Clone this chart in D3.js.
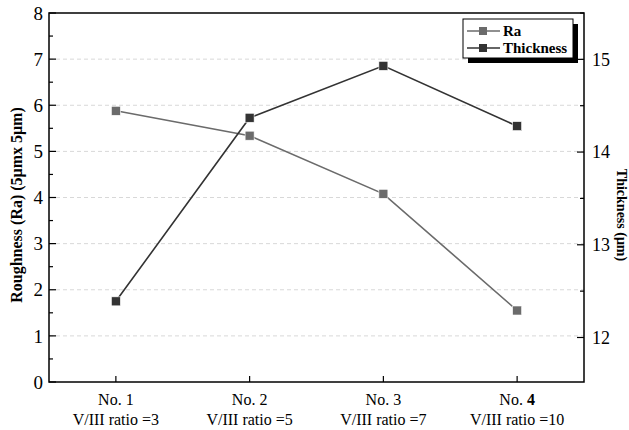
<!DOCTYPE html>
<html><head><meta charset="utf-8">
<script src="https://cdn.jsdelivr.net/npm/d3@7/dist/d3.min.js"></script>
<style>body{margin:0;background:#fff}svg{display:block}text{font-family:"Liberation Serif","Times New Roman",serif}</style>
</head><body><svg id="c" width="629" height="430"></svg>
<script>
const categories = ["No. 1","No. 2","No. 3","No. 4"];
const ratioLabels = ["V/III ratio =3","V/III ratio =5","V/III ratio =7","V/III ratio =10"];
const raValues = [5.88, 5.34, 4.08, 1.55];
const thicknessValues = [12.39, 14.37, 14.93, 14.28];
const leftTicks = [0,1,2,3,4,5,6,7,8];
const rightTicks = [12,13,14,15];

const svg = d3.select("#c");
const L=49, R=584, T=13, B=382;
const x = d3.scalePoint().domain(categories).range([L,R]).padding(0.5);
const yL = d3.scaleLinear().domain([0,8]).range([B,T]);
const yR = d3.scaleLinear().domain([11.52,15.5]).range([B,T]);

// grid
svg.append("g").selectAll("line").data(leftTicks.filter(d=>d>0&&d<8)).join("line")
  .attr("x1",L).attr("x2",R).attr("y1",d=>yL(d)).attr("y2",d=>yL(d))
  .attr("stroke","#d8d8d8").attr("stroke-dasharray","4,3").attr("stroke-width",1);

// frame
svg.append("rect").attr("x",L).attr("y",T).attr("width",R-L).attr("height",B-T)
  .attr("fill","none").attr("stroke","#000").attr("stroke-width",1.5);

// left ticks
const g = svg.append("g");
d3.range(0,8.01,0.5).forEach(v=>{
  const major = Number.isInteger(v);
  g.append("line").attr("x1",L).attr("x2",L+(major?7:4)).attr("y1",yL(v)).attr("y2",yL(v)).attr("stroke","#000").attr("stroke-width",1.2);
});
g.selectAll("text.l").data(leftTicks).join("text").attr("class","l")
  .attr("x",43).attr("y",d=>yL(d)).attr("dy","0.35em").attr("text-anchor","end")
  .attr("font-size",19).text(d=>d);
// right ticks
d3.range(12,15.51,0.5).forEach(v=>{
  const major = Number.isInteger(v);
  g.append("line").attr("x1",R).attr("x2",R-(major?7:4)).attr("y1",yR(v)).attr("y2",yR(v)).attr("stroke","#000").attr("stroke-width",1.2);
});
g.selectAll("text.r").data(rightTicks).join("text").attr("class","r")
  .attr("x",592).attr("y",d=>yR(d)).attr("dy","0.35em").attr("text-anchor","start")
  .attr("font-size",18).text(d=>d);
// bottom ticks & labels
categories.forEach((c,i)=>{
  g.append("line").attr("x1",x(c)).attr("x2",x(c)).attr("y1",B).attr("y2",B-6).attr("stroke","#000").attr("stroke-width",1.2);
  const t = g.append("text").attr("x",x(c)).attr("y",405).attr("text-anchor","middle").attr("font-size",16);
  if(i===3){ t.append("tspan").text("No. "); t.append("tspan").attr("font-weight","bold").text("4"); }
  else t.text(c);
  g.append("text").attr("x",x(c)).attr("y",425).attr("text-anchor","middle").attr("font-size",16).text(ratioLabels[i]);
});

// axis titles
svg.append("text").attr("transform","translate(22,205) rotate(-90)").attr("text-anchor","middle")
  .attr("font-size",16).attr("font-weight","bold").text("Roughness (Ra) (5μmx 5μm)");
svg.append("text").attr("transform","translate(617,215) rotate(90)").attr("text-anchor","middle")
  .attr("font-size",14).attr("font-weight","bold").text("Thickness (μm)");

// series
const raColor="#6b6b6b", thColor="#333333";
function series(vals, scale, color){
  svg.append("path").datum(vals)
    .attr("d", d3.line().x((d,i)=>x(categories[i])).y(d=>scale(d)))
    .attr("fill","none").attr("stroke",color).attr("stroke-width",1.6);
  svg.append("g").selectAll("rect").data(vals).join("rect")
    .attr("x",(d,i)=>x(categories[i])-4.5).attr("y",d=>scale(d)-4.5)
    .attr("width",9).attr("height",9).attr("fill",color).attr("stroke","#fff").attr("stroke-width",0.6);
}
series(raValues, yL, raColor);
series(thicknessValues, yR, thColor);

// legend
const lg = svg.append("g");
lg.append("rect").attr("x",468).attr("y",24).attr("width",110).attr("height",39).attr("fill","#000");
lg.append("rect").attr("x",463).attr("y",19).attr("width",110).attr("height",39).attr("fill","#fff").attr("stroke","#000").attr("stroke-width",1);
[["Ra",raColor,31],["Thickness",thColor,48]].forEach(([name,col,yy])=>{
  lg.append("line").attr("x1",467).attr("x2",500).attr("y1",yy).attr("y2",yy).attr("stroke",col).attr("stroke-width",1.6);
  lg.append("rect").attr("x",479).attr("y",yy-4).attr("width",8).attr("height",8).attr("fill",col);
  lg.append("text").attr("x",503).attr("y",yy).attr("dy","0.35em").attr("font-size",15).attr("font-weight","bold").text(name);
});
</script></body></html>
